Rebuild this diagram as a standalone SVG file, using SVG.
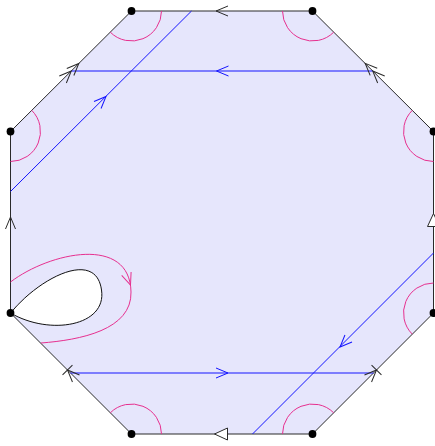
<svg xmlns="http://www.w3.org/2000/svg" xmlns:xlink="http://www.w3.org/1999/xlink" width="435" height="446" viewBox="0 0 435 446">
<style>
.edge{fill:none;stroke:#2a2a2a;stroke-width:1}
.blue{fill:none;stroke:#1515ff;stroke-width:1}
.mag{fill:none;stroke:#e6308f;stroke-width:1}
.dot{fill:#000}
</style>
<defs>
<path id="v" d="M-12,-5 L0,0 L-12,5" fill="none"/>
<path id="tri" d="M-13,-6 L0,0 L-13,6 Z" fill="#fff"/>
<path id="bar" d="M-12,-5 L0,0 L-12,5 M0,-7 L0,7" fill="none"/>
</defs>
<g id="octagon">
<polygon points="131.5,11 312.5,11 433.5,131.5 433.5,313 312.5,434 131.5,434 10.5,313 10.5,131.5" fill="#e6e6fc" stroke="#2a2a2a" stroke-width="1"/>
</g>
<g id="loop">
<path d="M10.5,313 C40,277 96,249 101.5,290 C107,326 50,336 10.5,313 Z" fill="#fff" stroke="#111" stroke-width="1"/>
</g>
<g id="arcs" class="mag">
<path d="M110.3,32.2 A30,30 0 0 0 161.5,11"/>
<path d="M282.5,11 A30,30 0 0 0 333.7,32.2"/>
<path d="M412.3,110.3 A30,30 0 0 0 433.5,161.5"/>
<path d="M433.5,283 A30,30 0 0 0 412.3,334.2"/>
<path d="M333.7,412.8 A30,30 0 0 0 282.5,434"/>
<path d="M161.5,434 A30,30 0 0 0 110.3,412.8"/>
<path d="M10.5,161.5 A30,30 0 0 0 31.7,110.3"/>
<path d="M10.5,282 C50,252 130,235 131,292 C132,330 80,340 41,343"/>
<use xlink:href="#v" href="#v" transform="translate(130.5,285) rotate(70)"/>
</g>
<g id="connectors">
<g class="blue">
<path d="M71.25,71 L372.75,71"/>
<path d="M10.5,191.5 L191.5,11"/>
<path d="M70.5,373 L373.5,373"/>
<path d="M252.5,434 L433.5,253"/>
<use xlink:href="#v" href="#v" transform="translate(216.5,71) rotate(180)"/>
<use xlink:href="#v" href="#v" transform="translate(106,96.5) rotate(-45)"/>
<use xlink:href="#v" href="#v" transform="translate(228,373)"/>
<use xlink:href="#v" href="#v" transform="translate(340,347) rotate(135)"/>
</g>
<g class="edge">
<use xlink:href="#v" href="#v" transform="translate(216,11) rotate(180)"/>
<use xlink:href="#v" href="#v" transform="translate(10.5,217) rotate(-90)"/>
<use xlink:href="#tri" href="#tri" transform="translate(433.5,213.5) rotate(-90)"/>
<use xlink:href="#tri" href="#tri" transform="translate(214.5,434) rotate(180)"/>
<use xlink:href="#v" href="#v" transform="translate(78.8,63.5) rotate(-45)"/>
<use xlink:href="#v" href="#v" transform="translate(71.3,71) rotate(-45)"/>
<use xlink:href="#v" href="#v" transform="translate(365.2,63.3) rotate(-135)"/>
<use xlink:href="#v" href="#v" transform="translate(372.7,71) rotate(-135)"/>
<use xlink:href="#bar" href="#bar" transform="translate(67.5,370) rotate(-135)"/>
<use xlink:href="#bar" href="#bar" transform="translate(376.5,370) rotate(-45)"/>
</g>
</g>
<g id="vertices" class="dot">
<circle cx="131.5" cy="11" r="3.9"/>
<circle cx="312.5" cy="11" r="3.9"/>
<circle cx="433.5" cy="131.5" r="3.9"/>
<circle cx="433.5" cy="313" r="3.9"/>
<circle cx="312.5" cy="434" r="3.9"/>
<circle cx="131.5" cy="434" r="3.9"/>
<circle cx="10.5" cy="313" r="3.9"/>
<circle cx="10.5" cy="131.5" r="3.9"/>
</g>
</svg>
